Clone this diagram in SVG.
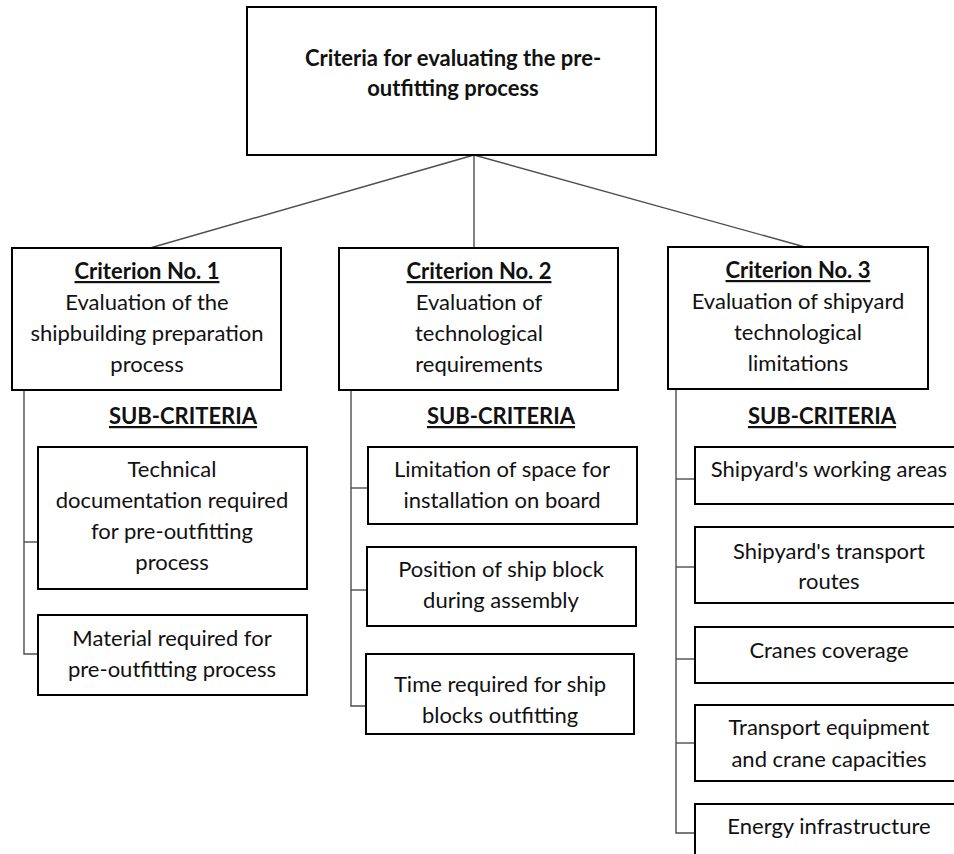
<svg xmlns="http://www.w3.org/2000/svg" width="954" height="854" viewBox="0 0 954 854">
<style>
.box{fill:#fff;stroke:#000;stroke-width:2}
.con{fill:none;stroke:#4d4d4d;stroke-width:1.4}
text{font-family:Lato,"Liberation Sans",sans-serif;font-size:22px;fill:#111;text-anchor:middle}
.b{font-weight:bold}
.u{text-decoration:underline}
</style>
<rect x="0" y="0" width="954" height="854" fill="#fff"/>
<g id="connectors">
<line class="con" x1="474" y1="155" x2="150" y2="248"/>
<line class="con" x1="474" y1="155" x2="474" y2="248"/>
<line class="con" x1="474" y1="155" x2="805" y2="247"/>
<polyline class="con" points="24,390 24,654 38,654"/>
<line class="con" x1="24" y1="542" x2="38" y2="542"/>
<polyline class="con" points="351,390 351,706 366,706"/>
<line class="con" x1="351" y1="488" x2="368" y2="488"/>
<line class="con" x1="351" y1="590" x2="367" y2="590"/>
<polyline class="con" points="676,389 676,833 695,833"/>
<line class="con" x1="676" y1="479" x2="695" y2="479"/>
<line class="con" x1="676" y1="567" x2="695" y2="567"/>
<line class="con" x1="676" y1="659" x2="695" y2="659"/>
<line class="con" x1="676" y1="743" x2="695" y2="743"/>
</g>
<g id="root">
<rect class="box" x="247" y="7" width="409" height="148"/>
<text class="b" x="453" y="66">Criteria for evaluating the pre-</text>
<text class="b" x="453" y="96">outfitting process</text>
</g>
<g id="criterion1">
<rect class="box" x="12" y="248" width="269" height="142"/>
<text class="b u" x="147" y="279">Criterion No. 1</text>
<text x="147" y="310">Evaluation of the</text>
<text x="147" y="341">shipbuilding preparation</text>
<text x="147" y="372">process</text>
</g>
<g id="criterion2">
<rect class="box" x="339" y="248" width="279" height="142"/>
<text class="b u" x="479" y="279">Criterion No. 2</text>
<text x="479" y="310">Evaluation of</text>
<text x="479" y="341">technological</text>
<text x="479" y="372">requirements</text>
</g>
<g id="criterion3">
<rect class="box" x="668" y="247" width="260" height="142"/>
<text class="b u" x="798" y="278">Criterion No. 3</text>
<text x="798" y="309">Evaluation of shipyard</text>
<text x="798" y="340">technological</text>
<text x="798" y="371">limitations</text>
</g>
<g id="subcriteria-labels">
<text class="b u" x="183" y="424">SUB-CRITERIA</text>
<text class="b u" x="501" y="424">SUB-CRITERIA</text>
<text class="b u" x="822" y="424">SUB-CRITERIA</text>
</g>
<g id="sub1-1">
<rect class="box" x="38" y="447" width="269" height="142"/>
<text x="172" y="477">Technical</text>
<text x="172" y="508">documentation required</text>
<text x="172" y="539">for pre-outfitting</text>
<text x="172" y="570">process</text>
</g>
<g id="sub1-2">
<rect class="box" x="38" y="615" width="269" height="80"/>
<text x="172" y="646">Material required for</text>
<text x="172" y="677">pre-outfitting process</text>
</g>
<g id="sub2-1">
<rect class="box" x="368" y="447" width="269" height="77"/>
<text x="502" y="477">Limitation of space for</text>
<text x="502" y="508">installation on board</text>
</g>
<g id="sub2-2">
<rect class="box" x="367" y="547" width="269" height="79"/>
<text x="501" y="577">Position of ship block</text>
<text x="501" y="608">during assembly</text>
</g>
<g id="sub2-3">
<rect class="box" x="366" y="654" width="268" height="80"/>
<text x="500" y="692">Time required for ship</text>
<text x="500" y="723">blocks outfitting</text>
</g>
<g id="sub3-1">
<rect class="box" x="695" y="447" width="270" height="57"/>
<text x="829" y="477">Shipyard's working areas</text>
</g>
<g id="sub3-2">
<rect class="box" x="695" y="527" width="270" height="76"/>
<text x="829" y="559">Shipyard's transport</text>
<text x="829" y="589">routes</text>
</g>
<g id="sub3-3">
<rect class="box" x="695" y="627" width="270" height="56"/>
<text x="829" y="658">Cranes coverage</text>
</g>
<g id="sub3-4">
<rect class="box" x="695" y="705" width="270" height="76"/>
<text x="829" y="735">Transport equipment</text>
<text x="829" y="767">and crane capacities</text>
</g>
<g id="sub3-5">
<rect class="box" x="695" y="804" width="270" height="70"/>
<text x="829" y="834">Energy infrastructure</text>
</g>
</svg>
